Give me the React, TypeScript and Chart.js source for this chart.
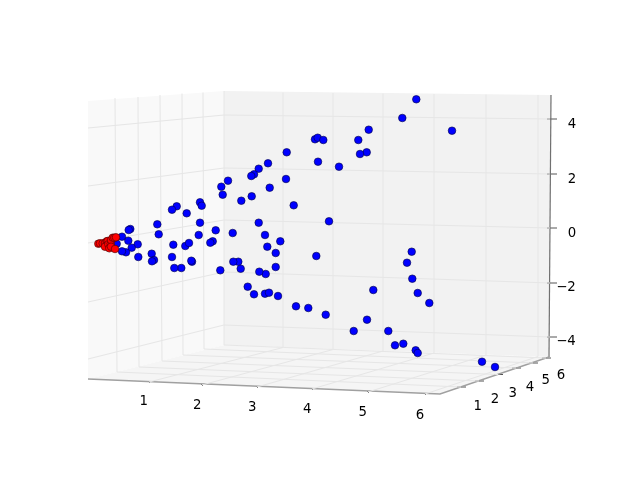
import { useEffect, useRef } from "react";
import { Chart, registerables } from "chart.js";

Chart.register(...registerables);

// Points as projected on the picture plane of the 3D view
const blueX = [315,317.7,286.7,268,258.7,254,251.3,228,221.3,222.7,241.3,251.7,269.7,286,318,293.7,200,201.7,176.7,172,186.7,200,157.3,130.3,128.7,158.7,122,128.3,137.7,131.7,126,122,116.7,173.3,185.3,189,198.7,215.7,232.7,212.7,210.3,258.7,265,280.3,267.3,275.7,316.3,275.7,265.7,259.3,240.7,238.3,233.3,220.3,192,191.3,172,181.3,174.3,151.7,154,152,138.3,416.3,402.3,368.7,452,358.3,323.3,366.7,360,339,329,411.7,407,412.3,373.3,417.7,429.3,325.7,367,353.7,388.3,395,403.3,415.7,417.7,482,495,247.7,254,265,269,278,296,308.3];
const blueY = [139.3,137.7,152.3,163.3,168.7,174.3,176,180.7,186.7,194.7,200.7,196.3,187.7,179,161.7,205.3,202.3,205.7,206.3,209.7,213.3,222.7,224.3,229,230,234.3,236.7,240.7,244.3,247.7,252.3,251.3,243.7,244.7,246,243,235,230.3,233,241.3,242.7,222.7,235,241.3,246.7,253,256,267,274,271.7,268.7,261.7,261.7,270.3,261.7,260.7,257,268,268,253.7,260,261.3,257,99.3,118,129.7,130.7,140,140,152.3,154,166.7,221.3,251.7,262.7,278.7,290,293,303,314.7,319.7,331,331,345.3,343.7,350.3,353,361.7,367,286.7,294.3,293.7,292.7,296,306.3,308];
const redX = [98.3,100,102.7,105,106.7,107.7,105,108.3,110.7,111,109.3,111,115,112.7,114.3,116];
const redY = [243.7,243.3,243.3,243,241.3,241,246.7,244.3,243.7,240,248.3,246.7,249,237.7,237.7,237.3];

// Panes
const leftPaneX = [88,224,224,88];
const leftPaneY = [101,91,345,379];
const backPaneX = [224,551,549,224];
const backPaneY = [91,95,357,345];
const floorPaneX = [88,224,549,440];
const floorPaneY = [379,345,357,394];

// Tick labels
const xTickLabels = ["1","2","3","4","5","6"];
const yTickLabels = ["1","2","3","4","5","6"];
const zTickLabels = ["4","2","0","\u22122","\u22124"];

// x gridlines: edge tick, back corner, top of back wall
const xEdgeX = [149,202,257,312,368,425];
const xEdgeY = [382,385,387,389,392,394];
const xBackX = [283,333,383,434,486,538];
const xBackY = [347.5,349.5,351,353,355,356.5];
const xTopY = [92.5,93,93.5,94,94.5,95];
const xLabelX = [143.7,197.3,252.3,307.3,362.7,420];
const xLabelY = [402,405.3,407.7,410,412.3,415.3];

// y gridlines
const yEdgeX = [461,479,498,516,533,546];
const yEdgeY = [387,381,374.5,368,363,358];
const yLeftX = [117,139,162,183,204,224];
const yLeftY = [372,367,361,355,349,345];
const yTopX = [115,138,160,182,203,224];
const yTopY = [98,97,95,93.5,92.5,91];
const yLabelX = [477.7,495,512.7,530,545.7,561];
const yLabelY = [407,400,393.7,387.7,381,376];

// z gridlines
const zLeftY = [128,186,243,302,359];
const zMidY = [115,168,220,272,325];
const zRightY = [119,174,228,283,337];
const zLabelX = [572,572,572,566,566];
const zLabelY = [125,179.5,233.5,287.5,341.5];

const seg = (color: string, width: number, xs: number[], ys: number[]) => ({
  type: "scatter" as const,
  data: xs.map((x, i) => ({ x, y: ys[i] })),
  showLine: true,
  borderColor: color,
  borderWidth: width,
  pointRadius: 0,
  fill: false,
  tension: 0,
});

const GRID = "#e6e6e6";
const AXIS = "#a0a0a0";
const ZAXIS = "#707070";

function buildLines() {
  const out: any[] = [];
  xEdgeX.forEach((x, i) => {
    out.push(seg(GRID, 1, [x, xBackX[i], xBackX[i]], [xEdgeY[i], xBackY[i], xTopY[i]]));
  });
  yEdgeX.forEach((x, i) => {
    out.push(seg(GRID, 1, [x, yLeftX[i], yTopX[i]], [yEdgeY[i], yLeftY[i], yTopY[i]]));
  });
  zMidY.forEach((m, i) => {
    out.push(seg(GRID, 1, [88, 224, 550], [zLeftY[i], m, zRightY[i]]));
  });
  // axis lines
  out.push(seg(AXIS, 1.5, [88, 440, 549], [379, 394, 357]));
  out.push(seg(ZAXIS, 1.2, [549, 551], [357, 95]));
  // tick marks
  xEdgeX.forEach((x, i) => out.push(seg("#555", 1, [x - 1, x + 1], [xEdgeY[i] - 1, xEdgeY[i] + 1])));
  yEdgeX.forEach((x, i) => out.push(seg("#555", 1, [x - 4, x + 5], [yEdgeY[i], yEdgeY[i]])));
  zRightY.forEach((y) => out.push(seg("#555", 1, [547, 557], [y, y])));
  return out;
}

const panesPlugin = {
  id: "panes",
  beforeDatasetsDraw(chart: any) {
    const { ctx, scales } = chart;
    const poly = (xs: number[], ys: number[], color: string) => {
      ctx.beginPath();
      xs.forEach((x, i) => {
        const px = scales.x.getPixelForValue(x);
        const py = scales.y.getPixelForValue(ys[i]);
        if (i === 0) ctx.moveTo(px, py);
        else ctx.lineTo(px, py);
      });
      ctx.closePath();
      ctx.fillStyle = color;
      ctx.fill();
    };
    ctx.save();
    poly(leftPaneX, leftPaneY, "#f9f9f9");
    poly(backPaneX, backPaneY, "#f2f2f2");
    poly(floorPaneX, floorPaneY, "#f5f5f5");
    ctx.restore();
  },
};

const labelsPlugin = {
  id: "tickText",
  afterDatasetsDraw(chart: any) {
    const { ctx, scales } = chart;
    ctx.save();
    ctx.font = '13.3px "DejaVu Sans"';
    ctx.fillStyle = "#000";
    ctx.textAlign = "center";
    ctx.textBaseline = "middle";
    const put = (labels: string[], xs: number[], ys: number[]) =>
      labels.forEach((t, i) =>
        ctx.fillText(t, scales.x.getPixelForValue(xs[i]), scales.y.getPixelForValue(ys[i]))
      );
    put(xTickLabels, xLabelX, xLabelY);
    put(yTickLabels, yLabelX, yLabelY);
    put(zTickLabels, zLabelX, zLabelY);
    ctx.restore();
  },
};

export default function App() {
  const ref = useRef<HTMLCanvasElement>(null);
  useEffect(() => {
    if (!ref.current) return;
    const chart = new Chart(ref.current, {
      type: "scatter",
      data: {
        datasets: [
          {
            data: redX.map((x, i) => ({ x, y: redY[i] })),
            backgroundColor: "#ff0000",
            borderColor: "#400000",
            borderWidth: 0.6,
            pointRadius: 3.8,
            order: 0,
          },
          {
            data: blueX.map((x, i) => ({ x, y: blueY[i] })),
            backgroundColor: "#0000ff",
            borderColor: "#000040",
            borderWidth: 0.6,
            pointRadius: 3.8,
            order: 1,
          },
          ...buildLines().map((d) => ({ ...d, order: 2 })),
        ],
      },
      options: {
        animation: false,
        responsive: false,
        layout: { padding: 0, autoPadding: false },
        plugins: { legend: { display: false }, tooltip: { enabled: false } },
        scales: {
          x: { type: "linear", min: 0, max: 636, display: false },
          y: { type: "linear", min: 0, max: 480, reverse: true, display: false },
        },
      },
      plugins: [panesPlugin, labelsPlugin],
    } as any);
    return () => chart.destroy();
  }, []);
  return (
    <div style={{ position: "absolute", left: 0, top: 0, width: 636, height: 480, background: "#fff" }}>
      <canvas ref={ref} width={636} height={480} style={{ display: "block", filter: "blur(0.35px)" }} />
    </div>
  );
}
